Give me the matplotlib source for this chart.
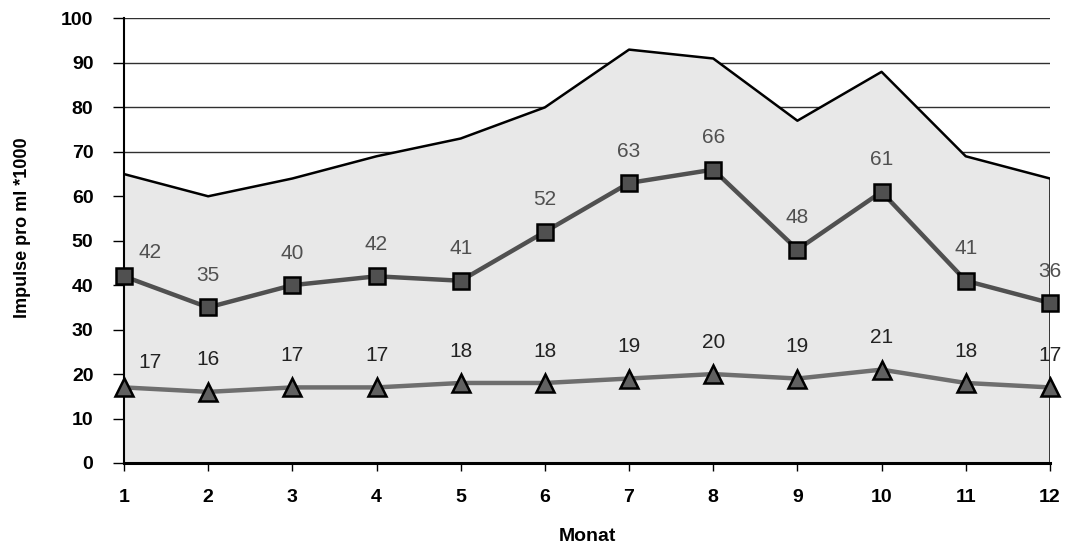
import matplotlib
matplotlib.use("Agg")
import matplotlib.pyplot as plt

months = list(range(1, 13))
upper_area = [65, 60, 64, 69, 73, 80, 93, 91, 77, 88, 69, 64]
mid_series = [42, 35, 40, 42, 41, 52, 63, 66, 48, 61, 41, 36]
low_series = [17, 16, 17, 17, 18, 18, 19, 20, 19, 21, 18, 17]
y_ticks = list(range(0, 101, 10))

plt.rcParams["font.family"] = ["Liberation Sans", "DejaVu Sans"]

fig = plt.figure(figsize=(10.67, 5.47), dpi=100)
ax = fig.add_axes([0.1162, 0.1536, 0.8678, 0.8126])

# background area with black outline
ax.fill_between(months, 0, upper_area, facecolor="#e8e8e8", edgecolor="none", zorder=2)
ax.plot(months, upper_area, color="black", lw=1.8, zorder=3)
ax.plot([months[-1], months[-1]], [0, upper_area[-1]], color="black", lw=1.8, zorder=3)

ax.plot(months, mid_series, color="#505050", lw=3.2, marker="s", ms=11,
        mfc="#505050", mec="black", mew=1.8, zorder=5, clip_on=False)
ax.plot(months, low_series, color="#6e6e6e", lw=3.2, marker="^", ms=13,
        mfc="#606060", mec="black", mew=1.8, zorder=5, clip_on=False)

for i, (m, v) in enumerate(zip(months, mid_series)):
    dx, dy = (19, 17) if i == 0 else (0, 23)
    ax.annotate(str(v), (m, v), xytext=(dx, dy), textcoords="offset points",
                ha="center", va="center", fontsize=15, color="#505050", zorder=6)
for i, (m, v) in enumerate(zip(months, low_series)):
    dx, dy = (19, 18) if i == 0 else (0, 23)
    ax.annotate(str(v), (m, v), xytext=(dx, dy), textcoords="offset points",
                ha="center", va="center", fontsize=15, color="#222222", zorder=6)

ax.set_xlim(1, 12)
ax.set_ylim(0, 100)
ax.set_xticks(months)
ax.set_yticks(y_ticks)
ax.tick_params(axis="y", direction="out", length=8, width=1, pad=14,
               labelsize=14)
ax.tick_params(axis="x", direction="out", length=6, width=1, pad=13,
               labelsize=14)
for lab in ax.get_xticklabels() + ax.get_yticklabels():
    lab.set_fontweight("bold")

ax.grid(axis="y", color="#303030", lw=1, zorder=1)
ax.set_axisbelow(True)
for side in ("top", "right"):
    ax.spines[side].set_visible(False)
ax.spines["left"].set_linewidth(1.5)
ax.spines["bottom"].set_linewidth(2.2)
ax.spines["left"].set_zorder(4)
ax.spines["bottom"].set_zorder(4)

ax.set_xlabel("Monat", fontsize=14, fontweight="bold")
ax.set_ylabel("Impulse pro ml *1000", fontsize=13, fontweight="bold")
ax.xaxis.set_label_coords(0.5, -0.146)
ax.yaxis.set_label_coords(-0.100, 0.529)

fig.savefig("out.png", dpi=100)
